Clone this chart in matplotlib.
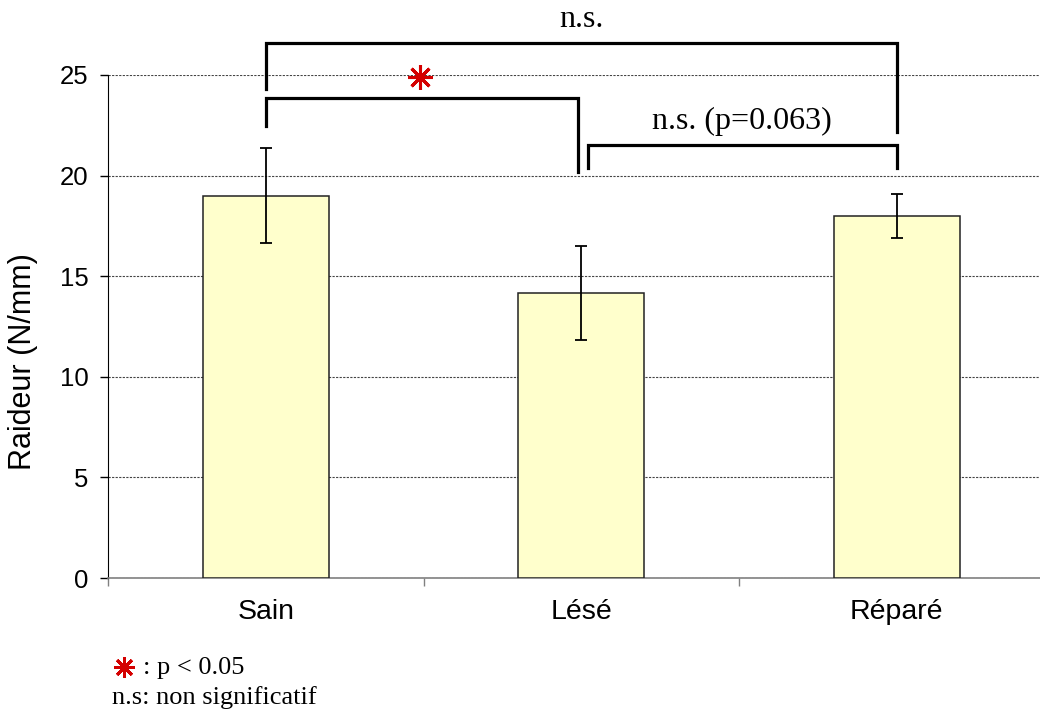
import matplotlib
matplotlib.use('Agg')
import matplotlib.pyplot as plt

# donnees
categories = ['Sain', 'Lésé', 'Réparé']
means = [19.0, 14.15, 18.0]
errors = [2.35, 2.33, 1.1]

# crochets de comparaison: (x gauche, x droite, y haut, bas gauche, bas droite)
bracket_x0 = [0.0, 0.0, 1.02]
bracket_x1 = [2.0, 0.99, 2.0]
bracket_top = [26.6, 23.87, 21.52]
bracket_left_low = [24.3, 22.48, 20.36]
bracket_right_low = [22.18, 20.18, 20.36]
bracket_labels = ['n.s.', '', 'n.s. (p=0.063)']

sans = ['Liberation Sans', 'DejaVu Sans']
serif = ['Liberation Serif', 'DejaVu Serif']
star_color = '#d40000'

fig = plt.figure(figsize=(10.4, 7.11), dpi=100)
ax = fig.add_axes([108 / 1040, 133 / 711, 946.5 / 1040, 503 / 711])

x = list(range(len(categories)))
ax.bar(x, means, width=0.4, color='#ffffcc', edgecolor='#222222', linewidth=1.1, zorder=3)
ax.errorbar(x, means, yerr=errors, fmt='none', ecolor='black', elinewidth=1.3,
            capsize=4.5, capthick=1.3, zorder=4)

ax.set_xlim(-0.5, 2.5)
ax.set_ylim(0, 25)
ax.set_yticks([0, 5, 10, 15, 20, 25])
ax.yaxis.grid(True, linestyle=(0, (2, 1.2)), color='#444444', linewidth=0.8)
ax.set_axisbelow(True)

# etiquettes au centre, graduations aux frontieres
ax.set_xticks([-0.5, 0.5, 1.5, 2.5])
ax.set_xticklabels([])
ax.set_xticks(x, minor=True)
ax.set_xticklabels(categories, minor=True, fontsize=20.5, family=sans)
ax.tick_params(axis='x', which='minor', length=0, pad=15)
ax.tick_params(axis='x', which='major', length=6, color='#808080', width=1)
ax.tick_params(axis='y', length=6, width=1, pad=8, labelsize=18.5)
for lab in ax.get_yticklabels():
    lab.set_family(sans)

ax.spines['top'].set_visible(False)
ax.spines['right'].set_visible(False)
ax.spines['bottom'].set_color('#808080')
ax.spines['bottom'].set_linewidth(1.2)
ax.spines['left'].set_color('black')

ax.set_ylabel('Raideur (N/mm)', fontsize=22, family=sans)
ax.yaxis.set_label_coords(-0.074, 0.43)

# crochets de significativite
for i in range(len(bracket_x0)):
    ax.plot([bracket_x0[i], bracket_x0[i], bracket_x1[i], bracket_x1[i]],
            [bracket_left_low[i], bracket_top[i], bracket_top[i], bracket_right_low[i]],
            color='black', linewidth=2.3, clip_on=False, zorder=5,
            solid_joinstyle='miter')
    if bracket_labels[i]:
        ax.text((bracket_x0[i] + bracket_x1[i]) / 2, bracket_top[i] + 0.45, bracket_labels[i],
                ha='center', va='bottom', fontsize=23, family=serif)

# etoile pour p < 0.05
ax.plot([0.488], [24.9], marker=(8, 2, 0), markersize=18, markeredgewidth=2.2,
        color=star_color, clip_on=False, zorder=6)

# legende en bas
fig.text(143 / 1040, 1 - 668 / 711, ': p < 0.05', fontsize=19, family=serif, va='center')
fig.text(112 / 1040, 1 - 698 / 711, 'n.s: non significatif', fontsize=19, family=serif, va='center')
star_ax = fig.add_axes([0, 0, 1, 1], facecolor='none')
star_ax.set_axis_off()
star_ax.set_xlim(0, 1040)
star_ax.set_ylim(711, 0)
star_ax.plot([123.5], [667], marker=(8, 2, 0), markersize=15, markeredgewidth=2.1,
             color=star_color)

fig.savefig('out.png', dpi=100)
plt.close(fig)
